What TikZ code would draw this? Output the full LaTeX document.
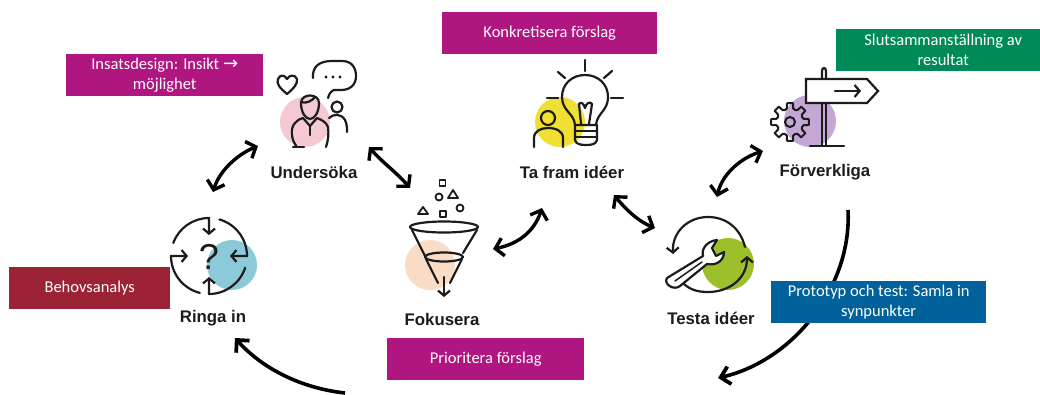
\documentclass[tikz,border=0pt]{standalone}
\usepackage{fontspec}
\setmainfont{Carlito}
\newfontfamily\labfont{Liberation Sans}
\newfontfamily\arrfont{DejaVu Sans}
\usetikzlibrary{arrows.meta,calc}
\definecolor{cmag}{HTML}{AF1680}
\definecolor{cred}{HTML}{9B2335}
\definecolor{cgrn}{HTML}{008A57}
\definecolor{cblu}{HTML}{00619B}
\definecolor{ink}{HTML}{1C1C1C}
\definecolor{dpink}{HTML}{F5C9D1}
\definecolor{dteal}{HTML}{8CCAD9}
\definecolor{dpeach}{HTML}{F8DCC5}
\definecolor{dyell}{HTML}{F0E033}
\definecolor{dgreen}{HTML}{9DBF2C}
\definecolor{dpurp}{HTML}{C4A7D4}
\tikzset{
  x=1pt,y=-1pt,
  tagbox/.style={fill=#1,text=white,font=\fontsize{16.5}{20}\selectfont,align=center,inner sep=0pt,anchor=north west},
  stagelab/.style={font=\labfont\bfseries\fontsize{16.8}{18}\selectfont,text=ink,inner sep=0pt},
  icon/.style={draw=ink,line width=2.2pt,line cap=round,line join=round},
  thin icon/.style={draw=ink,line width=1.8pt,line cap=round,line join=round},
  link/.style={draw=black,line width=3.4pt,{Straight Barb[length=8pt,width=18pt,line width=3.4pt]}-{Straight Barb[length=8pt,width=18pt,line width=3.4pt]}},
  flow/.style={draw=black,line width=3.6pt,-{Straight Barb[length=9pt,width=18pt,line width=3.8pt]}},
  tinyarrow/.style={-{Straight Barb[length=5pt,width=12pt,line width=2.2pt]}},
}
\begin{document}
\begin{tikzpicture}
\useasboundingbox (0,0) rectangle (1040,394);
\fill[white] (0,0) rectangle (1040,394);

% ---- stage labels
\node[stagelab] (und) at (314,172) {Undersöka};
\node[stagelab] (rin) at (213,318) {Ringa in};
\node[stagelab] (fok) at (442,319) {Fokusera};
\node[stagelab] (taf) at (572,172) {Ta fram idéer};
\node[stagelab] (tes) at (711,318) {Testa idéer};
\node[stagelab] (forv) at (825,172) {Förverkliga};

% ---- Undersöka icon
\fill[dpink] (305,122) circle[radius=25pt];
\draw[icon] (287,94) .. controls (280,88) and (276,84) .. (278,79) .. controls (280,74) and (285,75) .. (287,79) .. controls (289,75) and (295,74) .. (297,79) .. controls (298,84) and (293,89) .. (287,94) -- cycle;
\draw[icon] (313,78) .. controls (312,66) and (320,61) .. (332,61) -- (342,61) .. controls (352,61) and (356,68) .. (356,76) .. controls (356,85) and (350,90) .. (341,90) -- (334,90) .. controls (331,91) and (329,94) .. (328,98);
\foreach \dx in {326,333,340}{\fill[ink] (\dx,77) circle[radius=1.7pt];}
\draw[icon] (301,103) .. controls (301,93) and (319,93) .. (319,103) .. controls (319,113) and (314,119) .. (310,119) .. controls (306,119) and (301,113) .. (301,103) -- cycle;
\draw[icon] (301,102) .. controls (306,104) and (312,101) .. (315,97);
\draw[icon] (297,147) .. controls (291,140) and (290,128) .. (295,123) .. controls (297,120) and (300,119) .. (303,118) -- (310,126) -- (317,118) .. controls (322,120) and (326,122) .. (328,127) .. controls (329,134) and (328,141) .. (326,147);
\draw[icon] (293,147) -- (304,147);
\draw[icon] (310,126) -- (310,135);
\draw[icon] (337,107) circle[radius=5.5pt];
\draw[icon] (329,118) .. controls (333,114) and (341,113) .. (345,120) .. controls (347,124) and (347,128) .. (347,132);

% ---- Ringa in icon
\coordinate (rc) at (209,256);
\fill[dteal] (232,265) circle[radius=25pt];
\draw[icon,tinyarrow] ($(rc)+(160:38pt)$) arc[start angle=160,end angle=90,radius=38pt] -- ++(0,17);
\draw[icon,tinyarrow] ($(rc)+(74:38pt)$) arc[start angle=74,end angle=0,radius=38pt] -- ++(-17,0);
\draw[icon,tinyarrow] ($(rc)+(-18:38pt)$) arc[start angle=-18,end angle=-90,radius=38pt] -- ++(0,-17);
\draw[icon,tinyarrow] ($(rc)+(-104:38pt)$) arc[start angle=-104,end angle=-180,radius=38pt] -- ++(17,0);
\node[font=\labfont\fontsize{36}{36}\selectfont,text=ink,inner sep=0pt] (qm) at (209,257) {?};

% ---- Fokusera icon
\fill[dpeach] (430,265) circle[radius=25pt];
\draw[icon] (444,227) ellipse[x radius=34pt,y radius=5.5pt];
\draw[icon] (412,230) -- (427,260);
\draw[icon] (477,230) -- (463,253);
\draw[icon] (444,257) ellipse[x radius=19pt,y radius=4.5pt];
\draw[icon] (426,259) -- (438,283);
\draw[icon] (462,259) -- (450,283);
\draw[icon,tinyarrow] (444,277) -- (444,297);
\draw[thin icon] (439.5,180) rectangle (445.5,186);
\draw[thin icon] (439,197) circle[radius=3.5pt];
\draw[thin icon] (453,190) -- (458,198) -- (448,198) -- cycle;
\draw[thin icon] (423,207) -- (428,214) -- (418,214) -- cycle;
\draw[thin icon] (440,211) rectangle (446,217);
\draw[thin icon] (460,208) circle[radius=3.5pt];

% ---- Ta fram idéer icon
\fill[dyell] (560,122) circle[radius=25pt];
\draw[icon] (575,125) .. controls (574,113) and (562,111) .. (562,97) .. controls (562,84) and (572,75) .. (585,75) .. controls (598,75) and (608,84) .. (608,97) .. controls (608,111) and (597,113) .. (596,125);
\draw[icon] (575,125) -- (597,125) -- (597,140) .. controls (596,144) and (592,145) .. (586,145) .. controls (580,145) and (576,144) .. (575,140) -- cycle;
\draw[icon] (575,131) -- (597,131);
\draw[icon] (576,137) -- (596,137);
\draw[icon] (581,124) -- (579,104) .. controls (581,101) and (584,104) .. (585,108) .. controls (586,103) and (590,101) .. (592,104) -- (589,124);
\draw[icon] (585,60) -- (585,71);
\draw[icon] (558,72) -- (565,78);
\draw[icon] (612,71) -- (604,78);
\draw[icon] (547,98) -- (558,98);
\draw[icon] (611,98) -- (623,98);
\draw[icon] (548,118) circle[radius=7pt];
\draw[icon] (534,147) -- (534,138) .. controls (534,131) and (541,128) .. (548,128) .. controls (556,128) and (563,131) .. (563,138) -- (563,147);

% ---- Testa idéer icon
\fill[dgreen] (728,264) circle[radius=26pt];
\draw[icon,tinyarrow] (745,247) .. controls (740,227) and (725,217) .. (708,217) .. controls (688,217) and (672,232) .. (673,254);
\draw[icon,tinyarrow] (683,283) .. controls (690,290) and (698,292) .. (708,292) .. controls (730,292) and (747,278) .. (747,256);
\draw[icon,fill=white] (667,278) -- (703,256) .. controls (701,249) and (707,241) .. (717,240) -- (712,248) -- (716,256) -- (724,252) .. controls (724,260) and (717,266) .. (707,264) -- (680,286) .. controls (674,291) and (663,284) .. (667,278) -- cycle;
\draw[icon,line width=1.5pt] (675,281) -- (702,262);

% ---- Förverkliga icon
\fill[dpurp] (810,121) circle[radius=26pt];
\draw[icon] (822,103) -- (822,146);
\draw[icon] (826,103) -- (826,146);
\draw[icon] (810,146) -- (844,146);
\draw[icon] (822,79) -- (822,71) .. controls (822,67) and (826,67) .. (826,71) -- (826,79);
\draw[icon,line join=miter,fill=white] (806,79) -- (867,79) -- (878,91) -- (867,103) -- (806,103) -- cycle;
\draw[icon,tinyarrow] (835,91) -- (861,91);
\coordinate (gc) at (790,122);
\foreach \a in {0,45,...,315}{
  \draw[icon,line width=2pt] ($(gc)+(\a-22.5:13pt)$) -- ($(gc)+(\a-13:14pt)$) -- ($(gc)+(\a-9:19pt)$) -- ($(gc)+(\a+9:19pt)$) -- ($(gc)+(\a+13:14pt)$) -- ($(gc)+(\a+22.5:13pt)$);
}
\draw[icon,line width=2pt] (gc) circle[radius=5pt];

% ---- connector end points
\coordinate (a1s) at (213,192); \coordinate (a1e) at (258,146);
\coordinate (a2s) at (369,147); \coordinate (a2e) at (410,188);
\coordinate (a3s) at (493,249); \coordinate (a3e) at (542,208);
\coordinate (a4s) at (614,195); \coordinate (a4e) at (655,228);
\coordinate (a5s) at (717,197); \coordinate (a5e) at (763,151);
\coordinate (a6s) at (848,210); \coordinate (a6e) at (718,378);
\coordinate (a7s) at (345,393); \coordinate (a7e) at (235,338);

\draw[link] (a1s) .. controls (219,172) and (236,155) .. (a1e);
\draw[link] (a2s) .. controls (383,163) and (396,172) .. (a2e);
\draw[link] (a3s) .. controls (518,244) and (534,232) .. (a3e);
\draw[link] (a4s) .. controls (628,212) and (640,222) .. (a4e);
\draw[link] (a5s) .. controls (722,174) and (741,158) .. (a5e);
\draw[flow] (a6s) .. controls (852,285) and (795,360) .. (a6e);
\draw[flow] (a7s) .. controls (300,388) and (262,368) .. (a7e);

% ---- coloured tags
\node[tagbox=cmag,minimum width=197pt,minimum height=42pt] (t1) at (66,54) {Insatsdesign: Insikt {\arrfont\fontsize{18}{20}\selectfont →}\\möjlighet};
\node[tagbox=cred,minimum width=161pt,minimum height=42pt] (t2) at (9,267) {Behovsanalys};
\node[tagbox=cmag,minimum width=215pt,minimum height=42pt] (t3) at (442,12) {Konkretisera förslag};
\node[tagbox=cmag,minimum width=197pt,minimum height=42pt] (t4) at (387,338) {Prioritera förslag};
\node[tagbox=cgrn,minimum width=204pt,minimum height=42pt] (t5) at (836,29) {\hspace*{10pt}Slutsammanställning av\\\hspace*{10pt}resultat};
\node[tagbox=cblu,minimum width=215pt,minimum height=42pt] (t6) at (771,281) {Prototyp och test: Samla in\\synpunkter};
\end{tikzpicture}
\end{document}
